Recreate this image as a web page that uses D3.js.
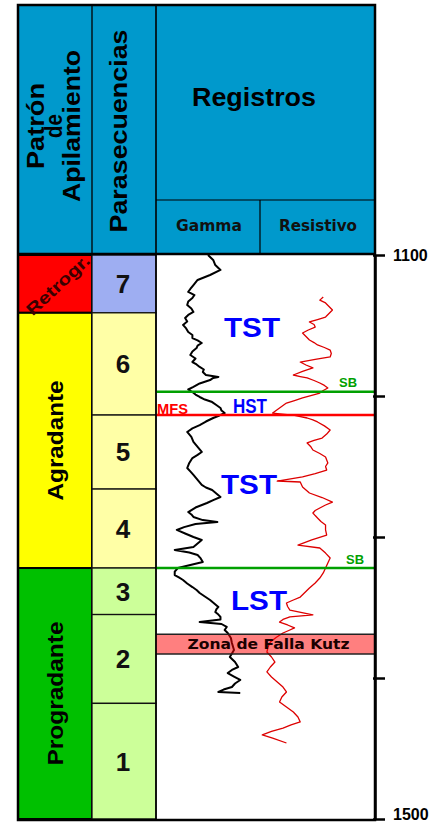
<!DOCTYPE html>
<html><head><meta charset="utf-8">
<script src="https://cdn.jsdelivr.net/npm/d3@7"></script>
<style>html,body{margin:0;padding:0;background:#fff;} svg{display:block;}</style>
</head><body>
<svg id="chart" width="435" height="822"></svg>
<script>
// ---- Data ----------------------------------------------------------
const depthDomain = [1100, 1500];
const depthTicks = [1100, 1200, 1300, 1400, 1500];
const depthTickLabels = ["1100", "", "", "", "1500"];

const patternNames = ["Retrogr.", "Agradante", "Progradante"];
const patternTops = [1100, 1141, 1322];
const patternBases = [1141, 1322, 1500];

const paraseqIds = ["7", "6", "5", "4", "3", "2", "1"];
const paraseqTops = [1100, 1141, 1213.5, 1266, 1322, 1355, 1418];
const paraseqBases = [1141, 1213.5, 1266, 1322, 1355, 1418, 1500];

const surfaceNames = ["SB", "MFS", "SB"];
const surfaceDepths = [1197, 1213.5, 1322];

const tractNames = ["TST", "HST", "TST", "LST"];
const tractDepths = [1158, 1212, 1269.5, 1352];

const faultName = "Zona de Falla Kutz";
const faultTop = 1369;
const faultBase = 1383;

const gammaDepth = [1100.0, 1103.5, 1107.1, 1110.6, 1114.2, 1117.7, 1121.3, 1124.1, 1126.2, 1128.4, 1130.5, 1133.0, 1135.5, 1138.0, 1140.4, 1142.5, 1144.7, 1147.2, 1149.6, 1152.1, 1154.6, 1156.7, 1158.9, 1160.6, 1162.4, 1164.2, 1166.0, 1168.4, 1170.9, 1173.4, 1175.9, 1177.6, 1179.4, 1181.2, 1183.0, 1185.1, 1186.5, 1187.2, 1188.7, 1191.1, 1193.6, 1195.4, 1197.2, 1199.0, 1200.7, 1202.5, 1204.3, 1206.4, 1208.5, 1210.3, 1212.1, 1213.8, 1215.6, 1218.1, 1220.6, 1223.0, 1225.5, 1229.0, 1232.6, 1236.1, 1239.7, 1241.8, 1244.0, 1247.5, 1251.1, 1253.5, 1256.0, 1259.5, 1263.1, 1264.9, 1266.7, 1269.1, 1271.6, 1273.8, 1275.9, 1279.1, 1282.3, 1284.0, 1285.8, 1288.0, 1289.4, 1290.8, 1293.0, 1295.0, 1297.5, 1300.0, 1302.1, 1304.6, 1307.1, 1308.2, 1309.2, 1311.0, 1312.8, 1315.2, 1317.7, 1319.9, 1322.0, 1324.5, 1327.0, 1328.7, 1330.5, 1333.0, 1335.5, 1337.6, 1339.7, 1342.2, 1344.7, 1347.2, 1349.6, 1351.4, 1353.2, 1355.0, 1356.7, 1358.5, 1360.3, 1361.7, 1363.8, 1366.0, 1368.1, 1371.6, 1375.2, 1380.1, 1385.1, 1388.6, 1392.2, 1394.3, 1396.5, 1399.0, 1401.4, 1403.9, 1406.4, 1408.2, 1409.9, 1410.6];
const gammaValue = [50, 55, 57, 62, 52, 40, 36, 33, 31, 37, 35, 31, 30, 34, 36, 31, 28, 30, 26, 29, 31, 35, 35, 40, 44, 40, 39, 35, 33, 38, 35, 39, 42, 46, 45, 48, 60, 55, 52, 42, 36, 31, 35, 38, 42, 47, 54, 58, 62, 63, 66, 61, 55, 48, 42, 35, 30, 34, 36, 40, 44, 40, 35, 32, 30, 33, 36, 40, 44, 48, 54, 58, 62, 55, 49, 38, 31, 34, 36, 45, 59, 38, 27, 20, 28, 36, 44, 40, 36, 27, 18, 32, 40, 43, 45, 33, 21, 18, 18, 22, 26, 30, 35, 39, 42, 47, 52, 56, 60, 58, 57, 60, 62, 62, 42, 63, 68, 66, 69, 72, 73, 75, 71, 76, 79, 73, 69, 75, 81, 76, 73, 65, 60, 81];

const resDepth = [1129.8, 1132.0, 1134.0, 1136.5, 1139.0, 1141.5, 1144.0, 1145.8, 1147.5, 1149.3, 1151.1, 1153.2, 1155.3, 1157.8, 1160.3, 1162.1, 1163.8, 1165.6, 1167.4, 1169.9, 1172.3, 1174.1, 1175.9, 1178.0, 1180.1, 1182.6, 1185.1, 1186.2, 1187.2, 1189.0, 1190.8, 1192.5, 1194.3, 1196.1, 1197.9, 1199.6, 1201.4, 1203.2, 1205.0, 1208.5, 1212.1, 1213.8, 1215.6, 1217.0, 1218.4, 1221.2, 1224.1, 1227.0, 1229.8, 1231.5, 1233.3, 1235.8, 1238.3, 1240.8, 1243.3, 1245.4, 1247.5, 1250.0, 1252.5, 1255.0, 1257.4, 1260.3, 1261.0, 1262.8, 1264.5, 1266.6, 1268.8, 1272.0, 1275.2, 1277.3, 1279.4, 1281.2, 1283.0, 1284.8, 1286.5, 1289.0, 1291.5, 1295.0, 1298.6, 1302.1, 1305.7, 1307.8, 1311.4, 1314.9, 1318.4, 1322.0, 1325.5, 1329.1, 1332.6, 1336.2, 1339.4, 1342.6, 1344.7, 1346.8, 1349.3, 1351.8, 1355.3, 1356.7, 1358.5, 1360.3, 1362.4, 1364.5, 1366.3, 1368.1, 1371.3, 1374.5, 1378.0, 1381.6, 1385.1, 1388.7, 1392.2, 1395.7, 1399.3, 1402.8, 1406.4, 1409.9, 1413.5, 1417.0, 1420.6, 1424.1, 1427.7, 1431.2, 1433.3, 1435.5, 1437.9, 1440.4, 1442.6, 1446.1];
const resValue = [55, 52, 57, 60, 63, 60, 57, 50, 43, 47, 48, 42, 37, 40, 43, 47, 50, 56, 61, 62, 61, 48, 35, 40, 46, 37, 29, 35, 41, 47, 52, 56, 59, 55, 52, 45, 37, 30, 23, 17, 11, 30, 41, 46, 50, 56, 61, 58, 54, 47, 41, 44, 46, 52, 57, 58, 59, 57, 58, 48, 37, 15, 35, 36, 37, 40, 43, 54, 63, 57, 52, 48, 46, 48, 50, 53, 57, 57, 58, 45, 33, 52, 57, 61, 59, 57, 55, 52, 48, 43, 39, 35, 29, 23, 24, 26, 46, 26, 20, 17, 24, 30, 25, 20, 14, 9, 7, 6, 10, 13, 9, 6, 10, 15, 20, 23, 19, 17, 23, 29, 33, 35, 27, 20, 10, 2, 11, 23];

// ---- Layout --------------------------------------------------------
const svg = d3.select("#chart");
const X0 = 18, X1 = 92, X2 = 156, XG = 260, X3 = 375;
const YTOP = 5, YSUB = 200, YHEAD = 254, YBOT = 820;

const y = d3.scaleLinear().domain(depthDomain).range([255, 819]);
const xGamma = d3.scaleLinear().domain([0, 100]).range([X2, XG]);
const xRes = d3.scaleLinear().domain([0, 100]).range([XG, X3]);

const headerBlue = "#0099cc";
const patternColors = {"Retrogr.": "#ff0000", "Agradante": "#ffff00", "Progradante": "#00c000"};
const paraseqColor = id => id === "7" ? "#9eaef2" : (+id >= 4 ? "#ffffa6" : "#ccff99");
const ARIAL = "'Liberation Sans', Arial, sans-serif";
const VERD = "'DejaVu Sans', Verdana, sans-serif";

// header cells
svg.append("rect").attr("x", X0).attr("y", YTOP).attr("width", X3 - X0).attr("height", YHEAD - YTOP).attr("fill", headerBlue);

// body track background
svg.append("rect").attr("x", X2).attr("y", YHEAD).attr("width", X3 - X2).attr("height", YBOT - YHEAD).attr("fill", "#fff");

// stacking pattern column
const patterns = patternNames.map((n, i) => ({name: n, top: patternTops[i], base: patternBases[i]}));
svg.append("g").selectAll("rect").data(patterns).join("rect")
  .attr("x", X0).attr("width", X1 - X0)
  .attr("y", d => y(d.top)).attr("height", d => y(d.base) - y(d.top))
  .attr("fill", d => patternColors[d.name]).attr("stroke", "#000").attr("stroke-width", 2);

// parasequence column
const paraseqs = paraseqIds.map((n, i) => ({id: n, top: paraseqTops[i], base: paraseqBases[i]}));
svg.append("g").selectAll("rect").data(paraseqs).join("rect")
  .attr("x", X1).attr("width", X2 - X1)
  .attr("y", d => y(d.top)).attr("height", d => y(d.base) - y(d.top))
  .attr("fill", d => paraseqColor(d.id)).attr("stroke", "#111").attr("stroke-width", 1.3);
svg.append("g").selectAll("text").data(paraseqs).join("text")
  .attr("x", (X1 + X2) / 2 - 1).attr("y", d => (y(d.top) + y(d.base)) / 2)
  .attr("dy", "0.36em").attr("text-anchor", "middle")
  .attr("font-family", ARIAL).attr("font-weight", "bold").attr("font-size", 26)
  .attr("fill", "#111").text(d => d.id);

// pattern labels
svg.append("text")
  .attr("transform", `translate(${(X0 + X1) / 2 + 3},${(y(patternTops[0]) + y(patternBases[0])) / 2 + 1}) rotate(-43)`)
  .attr("text-anchor", "middle").attr("dy", "0.35em")
  .attr("font-family", ARIAL).attr("font-weight", "bold").attr("font-size", 17)
  .attr("textLength", 80).attr("lengthAdjust", "spacingAndGlyphs")
  .attr("fill", "#3a0000").text(patternNames[0]);
[1, 2].forEach(i => {
  svg.append("text")
    .attr("transform", `translate(${(X0 + X1) / 2 + 8},${(y(patternTops[i]) + y(patternBases[i])) / 2}) rotate(-90)`)
    .attr("text-anchor", "middle")
    .attr("font-family", ARIAL).attr("font-weight", "bold").attr("font-size", 22)
    .attr("textLength", i === 1 ? 120 : 144).attr("lengthAdjust", "spacingAndGlyphs")
    .attr("fill", "#000").text(patternNames[i]);
});

// log curves
const line = (xs) => d3.line().x(d => xs(d[1])).y(d => y(d[0]));
svg.append("path").datum(gammaDepth.map((d, i) => [d, gammaValue[i]]))
  .attr("d", line(xGamma)).attr("fill", "none").attr("stroke", "#000")
  .attr("stroke-width", 2).attr("stroke-linejoin", "round");
svg.append("path").datum(resDepth.map((d, i) => [d, resValue[i]]))
  .attr("d", line(xRes)).attr("fill", "none").attr("stroke", "#dd0000")
  .attr("stroke-width", 1.3).attr("stroke-linejoin", "round");

// fault zone band
svg.append("rect").attr("x", X2).attr("width", X3 - X2)
  .attr("y", y(faultTop)).attr("height", y(faultBase) - y(faultTop))
  .attr("fill", "#ff0000").attr("fill-opacity", 0.5);
svg.append("g").selectAll("line").data([faultTop, faultBase]).join("line")
  .attr("x1", X2).attr("x2", X3).attr("y1", d => y(d)).attr("y2", d => y(d))
  .attr("stroke", "#222").attr("stroke-width", 1.5);
svg.append("text").attr("x", (X2 + X3) / 2 + 3).attr("y", (y(faultTop) + y(faultBase)) / 2)
  .attr("dy", "0.36em").attr("text-anchor", "middle")
  .attr("font-family", VERD).attr("font-weight", "bold").attr("font-size", 14)
  .attr("textLength", 162).attr("lengthAdjust", "spacingAndGlyphs")
  .attr("fill", "#1a0000").text(faultName);

// key surfaces
const surfaceColor = n => n === "MFS" ? "#ff0000" : "#00a000";
const surfaces = surfaceNames.map((n, i) => ({name: n, depth: surfaceDepths[i]}));
svg.append("g").selectAll("line").data(surfaces).join("line")
  .attr("x1", X2).attr("x2", X3).attr("y1", d => y(d.depth)).attr("y2", d => y(d.depth))
  .attr("stroke", d => surfaceColor(d.name)).attr("stroke-width", 2.5);
const surfaceLabelX = [339, 157, 346];
svg.append("g").selectAll("text").data(surfaces).join("text")
  .attr("x", (d, i) => surfaceLabelX[i]).attr("y", d => y(d.depth) - (d.name === "MFS" ? 1.5 : 4.5))
  .attr("font-family", ARIAL).attr("font-weight", "bold")
  .attr("font-size", d => d.name === "MFS" ? 15 : 13)
  .attr("textLength", d => d.name === "MFS" ? 31 : 18).attr("lengthAdjust", "spacingAndGlyphs")
  .attr("fill", d => surfaceColor(d.name)).text(d => d.name);

// systems tract labels
const tractX = [252, 250, 249, 259];
const tracts = tractNames.map((n, i) => ({name: n, depth: tractDepths[i]}));
svg.append("g").selectAll("text").data(tracts).join("text")
  .attr("x", (d, i) => tractX[i]).attr("y", d => y(d.depth))
  .attr("text-anchor", "middle")
  .attr("font-family", ARIAL).attr("font-weight", "bold")
  .attr("font-size", d => d.name === "HST" ? 20 : 28)
  .attr("textLength", d => d.name === "HST" ? 34 : 56).attr("lengthAdjust", "spacingAndGlyphs")
  .attr("fill", "#0000ff").text(d => d.name);

// header texts
const hdr = svg.append("g").attr("font-family", ARIAL).attr("font-weight", "bold").attr("fill", "#000");
[["Patrón", 44, 86], ["de", 62, 24], ["Apilamiento", 80, 152]].forEach(([t, bx, len]) => {
  hdr.append("text").attr("transform", `translate(${bx},126) rotate(-90)`)
    .attr("text-anchor", "middle").attr("font-size", 24)
    .attr("textLength", len).attr("lengthAdjust", "spacingAndGlyphs").text(t);
});
hdr.append("text").attr("transform", `translate(127,131) rotate(-90)`)
  .attr("text-anchor", "middle").attr("font-size", 24)
  .attr("textLength", 203).attr("lengthAdjust", "spacingAndGlyphs").text("Parasecuencias");
hdr.append("text").attr("x", 254).attr("y", 106).attr("text-anchor", "middle")
  .attr("font-size", 25).attr("textLength", 124).attr("lengthAdjust", "spacingAndGlyphs").text("Registros");
hdr.append("text").attr("x", 209).attr("y", 231).attr("text-anchor", "middle")
  .attr("font-family", VERD).attr("font-size", 15).attr("fill", "#111")
  .attr("textLength", 66).attr("lengthAdjust", "spacingAndGlyphs").text("Gamma");
hdr.append("text").attr("x", 318).attr("y", 231).attr("text-anchor", "middle")
  .attr("font-family", VERD).attr("font-size", 15).attr("fill", "#111")
  .attr("textLength", 78).attr("lengthAdjust", "spacingAndGlyphs").text("Resistivo");

// grid lines of the table
const grid = svg.append("g").attr("stroke", "#000").attr("fill", "none");
grid.append("line").attr("x1", X2).attr("x2", X3).attr("y1", YSUB).attr("y2", YSUB).attr("stroke-width", 1.2);
grid.append("line").attr("x1", XG).attr("x2", XG).attr("y1", YSUB).attr("y2", YHEAD).attr("stroke-width", 1.2);
grid.append("line").attr("x1", X1).attr("x2", X1).attr("y1", YTOP).attr("y2", YHEAD).attr("stroke-width", 1.3);
grid.append("line").attr("x1", X2).attr("x2", X2).attr("y1", YTOP).attr("y2", YBOT).attr("stroke-width", 1.6);
grid.append("line").attr("x1", X0).attr("x2", X3).attr("y1", YHEAD).attr("y2", YHEAD).attr("stroke-width", 2.5);
grid.append("rect").attr("x", X0).attr("y", YTOP).attr("width", X3 - X0).attr("height", YBOT - YTOP).attr("stroke-width", 2.5);

// depth axis
const axis = d3.axisRight(y).tickValues(depthTicks)
  .tickSizeInner(10).tickSizeOuter(0).tickPadding(8)
  .tickFormat((d, i) => depthTickLabels[i]);
const ax = svg.append("g").attr("transform", `translate(${X3},0)`).call(axis);
ax.select(".domain").attr("stroke-width", 2.5);
ax.selectAll(".tick line").attr("x1", -2).attr("stroke-width", 2.5);
ax.selectAll(".tick text").attr("font-family", ARIAL).attr("font-weight", "bold")
  .attr("font-size", 16).attr("fill", "#000")
  .attr("dy", (d, i) => i === depthTicks.length - 1 ? "0.05em" : "0.32em");
</script>
</body></html>
